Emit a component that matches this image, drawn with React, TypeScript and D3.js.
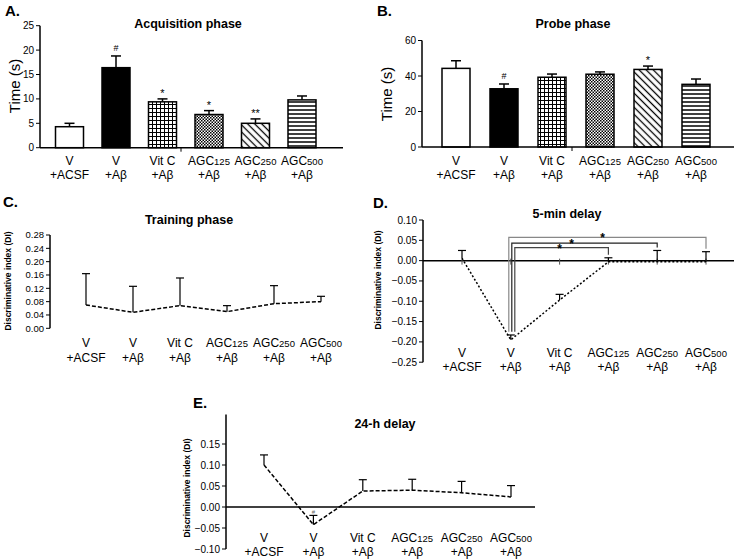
import React from "react";
import * as d3 from "d3";

// ---------- data ----------
const groupTop = ["V", "V", "Vit C", "AGC", "AGC", "AGC"];
const groupSub = ["", "", "", "125", "250", "500"];
const groupBottom = ["+ACSF", "+Aβ", "+Aβ", "+Aβ", "+Aβ", "+Aβ"];

const acqMean = [4.3, 16.4, 9.4, 6.8, 5.0, 9.8];
const acqErrTop = [5.0, 18.8, 10.0, 7.6, 5.9, 10.6];
const acqMarks = ["", "#", "*", "*", "**", ""];
const acqTicks = [0, 5, 10, 15, 20, 25];

const probeMean = [44.3, 32.8, 39.3, 41.0, 43.7, 35.3];
const probeErrTop = [48.6, 35.5, 41.1, 42.3, 45.6, 38.3];
const probeMarks = ["", "#", "", "", "*", ""];
const probeTicks = [0, 20, 40, 60];

const trainMean = [0.07, 0.048, 0.068, 0.05, 0.074, 0.08];
const trainErrTop = [0.164, 0.126, 0.151, 0.068, 0.128, 0.096];
const trainTicks = [0, 0.04, 0.08, 0.12, 0.16, 0.2, 0.24, 0.28];

const d5Mean = [0.006, -0.195, -0.097, -0.003, -0.003, -0.003];
const d5ErrTop = [0.025, -0.183, -0.083, 0.007, 0.025, 0.022];
const d5Ticks = [0.1, 0.05, 0, -0.05, -0.1, -0.15, -0.2, -0.25];
const d5BracketTo = [3, 4, 5];
const d5BracketLevel = [0.032, 0.043, 0.057];
const d5BracketMark = ["*", "*", "*"];

const d24Mean = [0.1, -0.042, 0.038, 0.04, 0.034, 0.024];
const d24ErrTop = [0.124, -0.02, 0.065, 0.066, 0.061, 0.051];
const d24Ticks = [0.15, 0.1, 0.05, 0, -0.05, -0.1];

// ---------- styles ----------
const FONT = "'Liberation Sans', Arial, Helvetica, sans-serif";
const fills = ["white", "black", "url(#pGrid)", "url(#pCheck)", "url(#pDiag)", "url(#pHoriz)"];
const idx = d3.range(6);

function CatLabels({ x, y1, y2 }: { x: (i: number) => number; y1: number; y2: number }) {
  return (
    <g fontSize={12} textAnchor="middle" fontFamily={FONT}>
      {idx.map((i) => (
        <g key={i}>
          <text x={x(i)} y={y1}>
            {groupTop[i]}
            {groupSub[i] && <tspan fontSize={9.5}>{groupSub[i]}</tspan>}
          </text>
          <text x={x(i)} y={y2}>{groupBottom[i]}</text>
        </g>
      ))}
    </g>
  );
}

function YAxis({ x, y, ticks, fmt, fs, y0, y1 }: any) {
  return (
    <g fontFamily={FONT}>
      <line x1={x} x2={x} y1={y0} y2={y1} stroke="black" strokeWidth={1.5} />
      {ticks.map((t: number) => (
        <g key={t}>
          <line x1={x - 4} x2={x} y1={y(t)} y2={y(t)} stroke="black" strokeWidth={1} />
          <text x={x - 6} y={y(t)} dy="0.35em" fontSize={fs} textAnchor="end">
            {fmt(t)}
          </text>
        </g>
      ))}
    </g>
  );
}

function BarPanel({ mean, errTop, marks, ticks, xr, yr, dom, axisX, axisEnd, tickMarkX }: any) {
  const x = d3.scalePoint<number>().domain(idx).range(xr);
  const y = d3.scaleLinear().domain(dom).range(yr);
  const bw = 28;
  return (
    <g>
      {idx.map((i) => (
        <g key={i}>
          <line x1={x(i)!} x2={x(i)!} y1={y(mean[i])} y2={y(errTop[i])} stroke="black" strokeWidth={1.5} />
          <line x1={x(i)! - 5} x2={x(i)! + 5} y1={y(errTop[i])} y2={y(errTop[i])} stroke="black" strokeWidth={1.5} />
          <rect x={x(i)! - bw / 2} y={y(mean[i])} width={bw} height={y(0) - y(mean[i])} fill={fills[i]} stroke="black" strokeWidth={1.5} />
          {marks[i] && (
            <text x={x(i)!} y={y(errTop[i]) - (marks[i] === "#" ? 5 : 2)} fontSize={marks[i] === "#" ? 9 : 11} textAnchor="middle" fontFamily={FONT}>
              {marks[i]}
            </text>
          )}
        </g>
      ))}
      <YAxis x={axisX} y={y} ticks={ticks} fmt={(t: number) => String(t)} fs={10} y0={y(dom[1])} y1={y(0)} />
      <line x1={axisX} x2={axisEnd} y1={y(0)} y2={y(0)} stroke="black" strokeWidth={1.5} />
      <line x1={tickMarkX} x2={tickMarkX} y1={y(0)} y2={y(0) + 4} stroke="black" strokeWidth={1} />
    </g>
  );
}

function LinePanel({ mean, errTop, x, y, dash }: any) {
  const line = d3.line<number>().x((i) => x(i)).y((i) => y(mean[i]));
  return (
    <g>
      <path d={line(idx)!} fill="none" stroke="black" strokeWidth={1.5} strokeDasharray={dash} />
      {idx.map((i) => (
        <g key={i}>
          <line x1={x(i)} x2={x(i)} y1={y(mean[i])} y2={y(errTop[i])} stroke="black" strokeWidth={1.2} />
          <line x1={x(i) - 4} x2={x(i) + 4} y1={y(errTop[i])} y2={y(errTop[i])} stroke="black" strokeWidth={1.2} />
        </g>
      ))}
    </g>
  );
}

function DiLabel({ x, y }: { x: number; y: number }) {
  return (
    <text transform={`translate(${x},${y}) rotate(-90)`} textAnchor="middle" fontSize={8.5} fontWeight="bold" fontFamily={FONT}>
      Discriminative index (DI)
    </text>
  );
}

export default function App() {
  // C
  const xC = d3.scalePoint<number>().domain(idx).range([86, 321]);
  const yC = d3.scaleLinear().domain([0, 0.28]).range([328.3, 235]);
  // D
  const xD = d3.scalePoint<number>().domain(idx).range([462, 706]);
  const yD = d3.scaleLinear().domain([-0.25, 0.1]).range([362.2, 220]);
  // E
  const xE = d3.scalePoint<number>().domain(idx).range([264, 511]);
  const yE = d3.scaleLinear().domain([-0.1, 0.22]).range([549, 414.6]);

  const fmt2 = d3.format(".2f");

  const bracketColors = ["#444", "#222", "#888"];
  const bracketLeftOff = [4, 1, -2];
  const starX = [xD(2)!, xD(2)! + 12, xD(2)! + 43];

  return (
    <svg width={734} height={560} style={{ position: "absolute", left: 0, top: 0, background: "white" }} fontFamily={FONT}>
      <defs>
        <pattern id="pGrid" width={4} height={4} patternUnits="userSpaceOnUse">
          <rect width={4} height={4} fill="white" />
          <path d="M0,0.5H4M0.5,0V4" stroke="black" strokeWidth={1} />
        </pattern>
        <pattern id="pCheck" width={3} height={3} patternUnits="userSpaceOnUse">
          <rect width={3} height={3} fill="white" />
          <rect width={1.5} height={1.5} fill="black" />
          <rect x={1.5} y={1.5} width={1.5} height={1.5} fill="black" />
        </pattern>
        <pattern id="pDiag" width={5} height={5} patternUnits="userSpaceOnUse" patternTransform="rotate(45)">
          <rect width={5} height={5} fill="white" />
          <line x1={0} x2={5} y1={2.5} y2={2.5} stroke="black" strokeWidth={1.3} />
        </pattern>
        <pattern id="pHoriz" width={4} height={4} patternUnits="userSpaceOnUse">
          <rect width={4} height={4} fill="white" />
          <line x1={0} x2={4} y1={2} y2={2} stroke="black" strokeWidth={1.5} />
        </pattern>
      </defs>
      <rect width={734} height={560} fill="white" />

      {/* Panel A */}
      <text x={5} y={16} fontSize={15} fontWeight="bold">A.</text>
      <text x={188} y={28} fontSize={12.5} fontWeight="bold" textAnchor="middle">Acquisition phase</text>
      <text transform="translate(20,86) rotate(-90)" fontSize={15} textAnchor="middle">Time (s)</text>
      <BarPanel mean={acqMean} errTop={acqErrTop} marks={acqMarks} ticks={acqTicks} xr={[69.5, 302]} yr={[147.7, 25.7]} dom={[0, 25]} axisX={40} axisEnd={343} tickMarkX={181} />
      <CatLabels x={(i) => d3.scalePoint<number>().domain(idx).range([69.5, 302])(i)!} y1={165} y2={179} />

      {/* Panel B */}
      <text x={377} y={16} fontSize={15} fontWeight="bold">B.</text>
      <text x={573} y={28} fontSize={12.5} fontWeight="bold" textAnchor="middle">Probe phase</text>
      <text transform="translate(392,94) rotate(-90)" fontSize={15} textAnchor="middle">Time (s)</text>
      <BarPanel mean={probeMean} errTop={probeErrTop} marks={probeMarks} ticks={probeTicks} xr={[456, 696]} yr={[147, 40.5]} dom={[0, 60]} axisX={422} axisEnd={734} tickMarkX={572} />
      <CatLabels x={(i) => d3.scalePoint<number>().domain(idx).range([456, 696])(i)!} y1={165} y2={179} />

      {/* Panel C */}
      <text x={3} y={207} fontSize={15} fontWeight="bold">C.</text>
      <text x={189} y={224} fontSize={12.5} fontWeight="bold" textAnchor="middle">Training phase</text>
      <DiLabel x={11} y={281} />
      <YAxis x={50} y={yC} ticks={trainTicks} fmt={fmt2} fs={9.5} y0={yC(0.28)} y1={yC(0)} />
      <LinePanel mean={trainMean} errTop={trainErrTop} x={(i: number) => xC(i)!} y={yC} dash="4,2" />
      <CatLabels x={(i) => xC(i)!} y1={347} y2={362} />

      {/* Panel D */}
      <text x={373} y={208} fontSize={15} fontWeight="bold">D.</text>
      <text x={567} y={218} fontSize={12.5} fontWeight="bold" textAnchor="middle">5-min delay</text>
      <DiLabel x={381} y={280} />
      <YAxis x={423} y={yD} ticks={d5Ticks} fmt={fmt2} fs={10} y0={yD(-0.25)} y1={yD(0.1)} />
      <line x1={423} x2={734} y1={yD(0)} y2={yD(0)} stroke="black" strokeWidth={1.5} />
      {idx.map((i) => (
        <line key={i} x1={xD(i)!} x2={xD(i)!} y1={yD(0) - 2} y2={yD(0) + 4} stroke="#555" strokeWidth={1} />
      ))}
      <LinePanel mean={d5Mean} errTop={d5ErrTop} x={(i: number) => xD(i)!} y={yD} dash="2,2" />
      {d5BracketTo.map((to, k) => {
        const lx = xD(1)! + bracketLeftOff[k];
        const rx = xD(to)!;
        const ly = yD(d5BracketLevel[k]);
        return (
          <g key={k} fill="none" stroke={bracketColors[k]} strokeWidth={1.2}>
            <polyline points={`${lx},${yD(-0.175)} ${lx},${ly} ${rx},${ly} ${rx},${yD(d5ErrTop[to]) - 3}`} />
            <text x={starX[k]} y={ly + 5} fontSize={12} fontWeight="bold" textAnchor="middle" fill="black" stroke="none">
              {d5BracketMark[k]}
            </text>
          </g>
        );
      })}
      <CatLabels x={(i) => xD(i)!} y1={357} y2={371} />

      {/* Panel E */}
      <text x={193} y={408} fontSize={15} fontWeight="bold">E.</text>
      <text x={385} y={428} fontSize={12.5} fontWeight="bold" textAnchor="middle">24-h delay</text>
      <DiLabel x={190} y={488} />
      <YAxis x={226} y={yE} ticks={d24Ticks} fmt={fmt2} fs={10} y0={yE(0.22)} y1={yE(-0.1)} />
      <line x1={226} x2={535} y1={yE(0)} y2={yE(0)} stroke="black" strokeWidth={1.5} />
      <LinePanel mean={d24Mean} errTop={d24ErrTop} x={(i: number) => xE(i)!} y={yE} dash="4,2" />
      <text x={xE(1)!} y={yE(d24ErrTop[1]) - 1} fontSize={6} textAnchor="middle" fill="#666">#</text>
      <CatLabels x={(i) => xE(i)!} y1={542} y2={556} />
    </svg>
  );
}
